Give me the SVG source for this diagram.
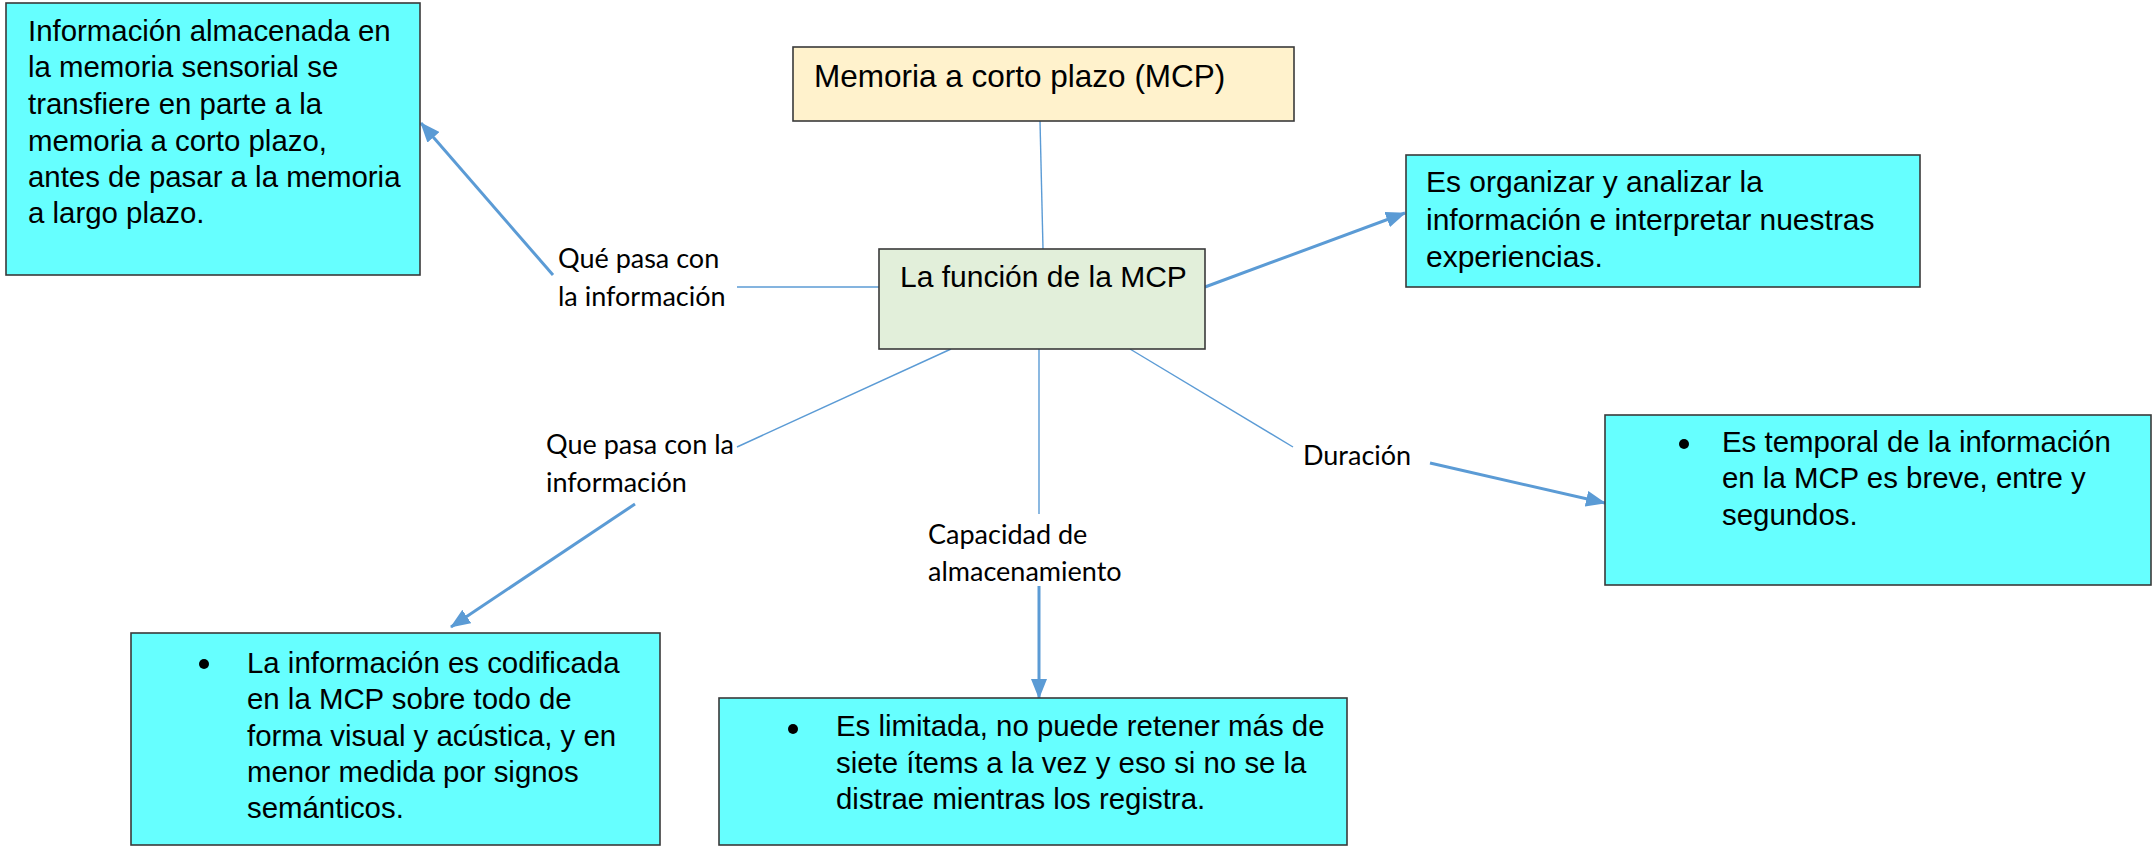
<svg xmlns="http://www.w3.org/2000/svg" width="2155" height="851" viewBox="0 0 2155 851">
<defs>
<style>
.box{stroke:#3a3a3a;stroke-width:1.6}
.cyan{fill:#66FFFF}
.beige{fill:#FFF2CC}
.green{fill:#E2EFDA}
.t{font-family:"Liberation Sans",Arial,sans-serif;font-size:30px;fill:#000}
.tb{font-size:29.4px}
.lbl{font-family:Lato,"Open Sans",sans-serif;font-size:27px;fill:#000}
.thin{stroke:#5B9BD5;stroke-width:1.4;fill:none}
.thick{stroke:#5B9BD5;stroke-width:3;fill:none;marker-end:url(#arr)}
</style>
<marker id="arr" viewBox="0 0 20 16" refX="19" refY="8" markerWidth="20" markerHeight="16" markerUnits="userSpaceOnUse" orient="auto">
<path d="M0,0 L20,8 L0,16 Z" fill="#5B9BD5"/>
</marker>
</defs>
<rect width="2155" height="851" fill="#fff"/>
<g id="connectors">
<path class="thin" d="M1040,121 L1043,249"/>
<path class="thin" d="M879,287 L737,287"/>
<path class="thick" d="M553,275 L421,123"/>
<path class="thick" d="M1205,287 L1405,213"/>
<path class="thin" d="M951,349 L737,447"/>
<path class="thick" d="M635,504 L451,627"/>
<path class="thin" d="M1039,349 L1039,514"/>
<path class="thick" d="M1039,586 L1039,698"/>
<path class="thin" d="M1130,349 L1293,447"/>
<path class="thick" d="M1430,463 L1605,503"/>
</g>
<g id="node-sensorial">
<rect class="box cyan" x="6" y="3" width="414" height="272"/>
<text class="t tb" x="28" y="41">Información almacenada en</text>
<text class="t tb" x="28" y="77">la memoria sensorial se</text>
<text class="t tb" x="28" y="114">transfiere en parte a la</text>
<text class="t tb" x="28" y="151">memoria a corto plazo,</text>
<text class="t tb" x="28" y="187">antes de pasar a la memoria</text>
<text class="t tb" x="28" y="223">a largo plazo.</text>
</g>
<g id="node-mcp">
<rect class="box beige" x="793" y="47" width="501" height="74"/>
<text class="t" x="814" y="87" style="font-size:31.5px">Memoria a corto plazo (MCP)</text>
</g>
<g id="node-funcion">
<rect class="box green" x="879" y="249" width="326" height="100"/>
<text class="t" x="900" y="287">La función de la MCP</text>
</g>
<g id="node-organizar">
<rect class="box cyan" x="1406" y="155" width="514" height="132"/>
<text class="t" x="1426" y="192">Es organizar y analizar la</text>
<text class="t" x="1426" y="230">información e interpretar nuestras</text>
<text class="t" x="1426" y="267">experiencias.</text>
</g>
<g id="node-temporal">
<rect class="box cyan" x="1605" y="415" width="546" height="170"/>
<circle cx="1684" cy="444" r="5"/>
<text class="t tb" x="1722" y="452">Es temporal de la información</text>
<text class="t tb" x="1722" y="488">en la MCP es breve, entre y</text>
<text class="t tb" x="1722" y="525">segundos.</text>
</g>
<g id="node-codificada">
<rect class="box cyan" x="131" y="633" width="529" height="212"/>
<circle cx="204" cy="664" r="5"/>
<text class="t tb" x="247" y="673">La información es codificada</text>
<text class="t tb" x="247" y="709">en la MCP sobre todo de</text>
<text class="t tb" x="247" y="746">forma visual y acústica, y en</text>
<text class="t tb" x="247" y="782">menor medida por signos</text>
<text class="t tb" x="247" y="818">semánticos.</text>
</g>
<g id="node-limitada">
<rect class="box cyan" x="719" y="698" width="628" height="147"/>
<circle cx="793" cy="729" r="5"/>
<text class="t tb" x="836" y="736">Es limitada, no puede retener más de</text>
<text class="t tb" x="836" y="773">siete ítems a la vez y eso si no se la</text>
<text class="t tb" x="836" y="809">distrae mientras los registra.</text>
</g>
<g id="labels">
<text class="lbl" x="558" y="268">Qué pasa con</text>
<text class="lbl" x="558" y="306">la información</text>
<text class="lbl" x="546" y="454">Que pasa con la</text>
<text class="lbl" x="546" y="492">información</text>
<text class="lbl" x="928" y="544">Capacidad de</text>
<text class="lbl" x="928" y="581">almacenamiento</text>
<text class="lbl" x="1303" y="465">Duración</text>
</g>
</svg>
